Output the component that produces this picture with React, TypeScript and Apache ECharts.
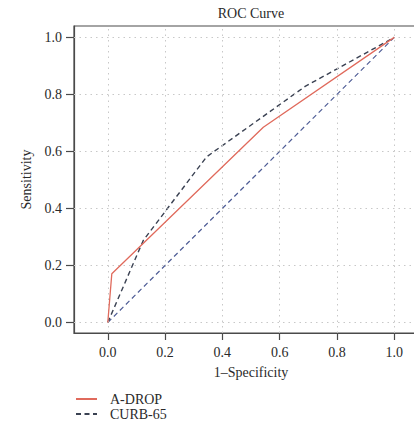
import React, { useEffect, useRef } from "react";
import * as echarts from "echarts";

const tickValues = [0, 0.2, 0.4, 0.6, 0.8, 1.0];
const aDropFpr = [0, 0.014, 0.543, 1];
const aDropTpr = [0, 0.171, 0.685, 1];
const curbFpr = [0, 0.124, 0.345, 0.689, 1];
const curbTpr = [0, 0.288, 0.581, 0.828, 1];
const refFpr = [0, 1];
const refTpr = [0, 1];
const seriesNames = ["A-DROP", "CURB-65"];

const FONT = "'Liberation Serif', 'Times New Roman', serif";
const TXT = "#2a2a2a";

function pairs(xs: number[], ys: number[]) {
  return xs.map((x, i) => [x, ys[i]]);
}

export default function App() {
  const ref = useRef<HTMLDivElement>(null);
  useEffect(() => {
    if (!ref.current) return;
    const chart = echarts.init(ref.current, null, { renderer: "svg" });
    const gridStyle = { color: "#c8c8c8", width: 1, type: [1.5, 4] as any };
    chart.setOption({
      animation: false,
      backgroundColor: "#ffffff",
      textStyle: { fontFamily: FONT },
      graphic: [
        {
          type: "text",
          x: 251,
          y: 13,
          style: {
            text: "ROC Curve",
            font: `14px ${FONT}`,
            fill: TXT,
            textAlign: "center",
            textVerticalAlign: "middle",
          },
        },
      ],
      grid: {
        left: 74,
        top: 26,
        width: 354,
        height: 307,
        show: true,
        borderColor: "#4a4a4a",
        borderWidth: 1.2,
        containLabel: false,
        outerBoundsMode: "none",
      },
      legend: {
        data: seriesNames,
        orient: "vertical",
        left: 70,
        top: 387,
        height: 60,
        itemWidth: 21,
        itemHeight: 10,
        itemGap: 1,
        itemStyle: { opacity: 0, borderWidth: 0 },
        textStyle: { fontFamily: FONT, fontSize: 14, lineHeight: 14, color: TXT, padding: [0, 0, 0, 8] },
      },
      xAxis: {
        type: "value",
        min: -0.118,
        max: 1.118,
        name: "1–Specificity",
        nameLocation: "middle",
        nameGap: 32,
        nameTextStyle: { fontFamily: FONT, fontSize: 14, color: TXT },
        axisLine: { show: true, onZero: false, lineStyle: { color: "#4a4a4a", width: 1.2 } },
        axisTick: {
          show: true,
          inside: false,
          length: 7,
          customValues: tickValues,
          lineStyle: { color: "#4a4a4a", width: 1.2 },
        },
        axisLabel: {
          customValues: tickValues,
          margin: 12,
          fontFamily: FONT,
          fontSize: 14,
          color: TXT,
          formatter: (v: number) => v.toFixed(1),
        },
        splitLine: { show: false },
      },
      yAxis: {
        type: "value",
        min: -0.037,
        max: 1.04,
        name: "Sensitivity",
        nameLocation: "middle",
        nameGap: 36,
        nameRotate: 90,
        nameTextStyle: { fontFamily: FONT, fontSize: 14, color: TXT },
        axisLine: { show: true, onZero: false, lineStyle: { color: "#4a4a4a", width: 1.2 } },
        axisTick: {
          show: true,
          inside: false,
          length: 8,
          customValues: tickValues,
          lineStyle: { color: "#4a4a4a", width: 1.2 },
        },
        axisLabel: {
          customValues: tickValues,
          margin: 12,
          fontFamily: FONT,
          fontSize: 14,
          color: TXT,
          formatter: (v: number) => v.toFixed(1),
        },
        splitLine: { show: false },
      },
      series: [
        {
          name: "grid",
          type: "line",
          data: [],
          silent: true,
          markLine: {
            silent: true,
            symbol: "none",
            label: { show: false },
            lineStyle: gridStyle,
            data: [
              ...tickValues.map((v) => ({ xAxis: v })),
              ...tickValues.map((v) => ({ yAxis: v })),
            ],
          },
        },
        {
          name: "reference",
          type: "line",
          data: pairs(refFpr, refTpr),
          symbol: "none",
          lineStyle: { color: "#4f5d96", width: 1.2, type: [5, 3.5] },
          z: 3,
        },
        {
          name: seriesNames[1],
          type: "line",
          data: pairs(curbFpr, curbTpr),
          symbol: "none",
          color: "#3a4152",
          lineStyle: { color: "#3a4152", width: 1.4, type: [5, 3.5] },
          z: 4,
        },
        {
          name: seriesNames[0],
          type: "line",
          data: pairs(aDropFpr, aDropTpr),
          symbol: "none",
          color: "#e06a5c",
          lineStyle: { color: "#e06a5c", width: 1.3 },
          z: 5,
        },
      ],
    });
    return () => chart.dispose();
  }, []);
  return <div ref={ref} style={{ width: 414, height: 424, position: "absolute", left: 0, top: 0 }} />;
}
